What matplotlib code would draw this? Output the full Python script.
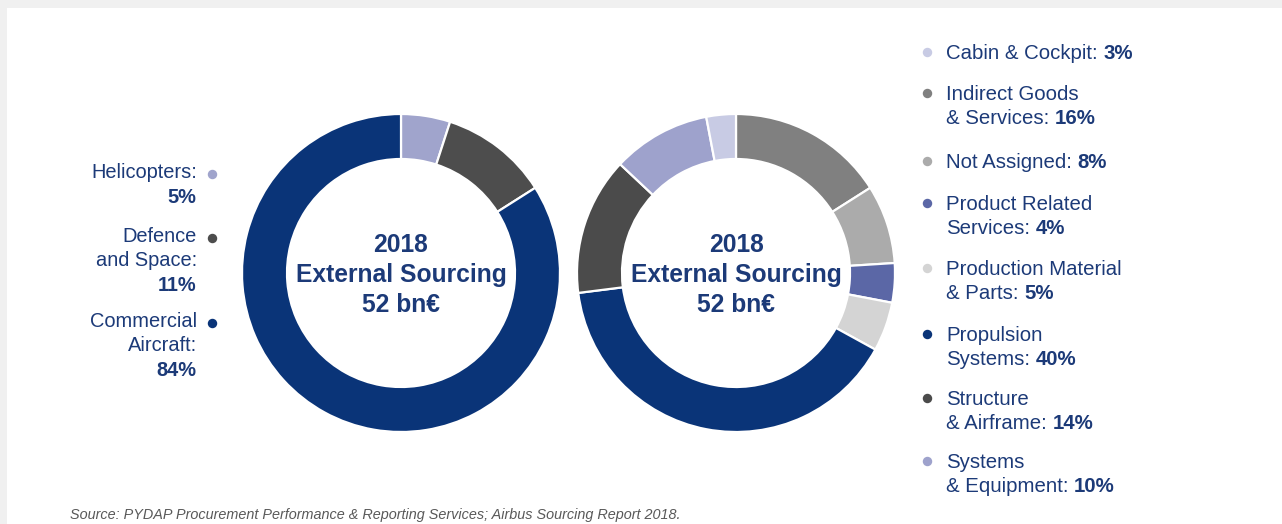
import matplotlib
matplotlib.use("Agg")
import matplotlib.pyplot as plt
from matplotlib.patches import Rectangle

W, H = 1282, 524
DPI = 100

# Airbus divisions (left ring)
division_lines = [["Helicopters:"], ["Defence", "and Space:"], ["Commercial", "Aircraft:"]]
division_shares = [5, 11, 84]
division_colors = ["#a0a4cc", "#4d4d4d", "#0a3478"]

# Sourcing categories (right ring), listed alphabetically
category_lines = [
    ["Cabin & Cockpit:"],
    ["Indirect Goods", "& Services:"],
    ["Not Assigned:"],
    ["Product Related", "Services:"],
    ["Production Material", "& Parts:"],
    ["Propulsion", "Systems:"],
    ["Structure", "& Airframe:"],
    ["Systems", "& Equipment:"],
]
category_shares = [3, 16, 8, 4, 5, 40, 14, 10]
category_colors = ["#c8cbe4", "#808080", "#ababab", "#5b67a6",
                   "#d4d4d4", "#0a3478", "#4b4b4b", "#9ea2cc"]

TEXT_NAVY = "#1c3a78"
FONT = "Liberation Sans"
FS_LEFT = 14.4
FS_RIGHT = 14.7

fig = plt.figure(figsize=(W / DPI, H / DPI), dpi=DPI)
fig.patch.set_facecolor("white")
ax = fig.add_axes([0, 0, 1, 1])

# thin grey frame along the top and left edges
fig.patches.append(Rectangle((0, 1 - 8 / H), 1, 8 / H, transform=fig.transFigure,
                             facecolor="#f0f0f0", edgecolor="none", zorder=0))
fig.patches.append(Rectangle((0, 0), 7 / W, 1, transform=fig.transFigure,
                             facecolor="#f0f0f0", edgecolor="none", zorder=0))


def py(y):
    """Convert a top-down pixel row to data y."""
    return H - y


R_OUT, RING = 159, 45
wedge_style = dict(width=RING, edgecolor="white", linewidth=1.6)

# left ring: divisions, clockwise from 12 o'clock
ax.pie(division_shares, colors=division_colors, startangle=90, counterclock=False,
       radius=R_OUT, center=(401, py(273)), wedgeprops=wedge_style)

# right ring starts with the second category and wraps round to the first
ring_order = list(range(1, len(category_shares))) + [0]
ax.pie([category_shares[i] for i in ring_order],
       colors=[category_colors[i] for i in ring_order],
       startangle=90, counterclock=False,
       radius=R_OUT, center=(736, py(273)), wedgeprops=wedge_style)

ax.set_xlim(0, W)
ax.set_ylim(0, H)
ax.set_aspect("auto")
ax.axis("off")

for cx in (401, 736):
    for base, line in zip((252, 282, 312), ("2018", "External Sourcing", "52 bn€")):
        ax.text(cx, py(base), line, ha="center", va="baseline", fontsize=17.7,
                fontweight="bold", family=FONT, color=TEXT_NAVY)


def label_with_value(x, y, text, value, fs):
    t = ax.text(x, y, text, ha="left", va="baseline", fontsize=fs,
                family=FONT, color=TEXT_NAVY)
    ax.annotate(f"{value}%", xy=(1, 0), xycoords=t, xytext=(5.7, 0),
                textcoords="offset pixels", ha="left", va="bottom", fontsize=fs,
                fontweight="bold", family=FONT, color=TEXT_NAVY)


STEP = 24

# right legend
item_baselines = [59, 100, 168, 210, 275, 341, 405, 468]
for lines, share, color, base in zip(category_lines, category_shares,
                                     category_colors, item_baselines):
    ax.plot(927, py(base - 7), "o", ms=6.8, color=color, mec="none")
    for k, line in enumerate(lines):
        y = py(base + k * STEP)
        if k == len(lines) - 1:
            label_with_value(946, y, line, share, FS_RIGHT)
        else:
            ax.text(946, y, line, ha="left", va="baseline", fontsize=FS_RIGHT,
                    family=FONT, color=TEXT_NAVY)

# left labels, right-aligned against their dots
div_baselines = [178, 242, 327]
for lines, share, color, base in zip(division_lines, division_shares,
                                     division_colors, div_baselines):
    ax.plot(212, py(base - 4), "o", ms=6.8, color=color, mec="none")
    for k, line in enumerate(lines):
        ax.text(197, py(base + k * STEP), line, ha="right", va="baseline",
                fontsize=FS_LEFT, family=FONT, color=TEXT_NAVY)
    ax.text(196, py(base + len(lines) * STEP + 1), f"{share}%", ha="right",
            va="baseline", fontsize=FS_LEFT, fontweight="bold", family=FONT,
            color=TEXT_NAVY)

ax.text(70, py(519), "Source: PYDAP Procurement Performance & Reporting Services; "
        "Airbus Sourcing Report 2018.", ha="left", va="baseline", fontsize=10.4,
        style="italic", family=FONT, color="#595959")

fig.savefig("out.png", dpi=DPI, facecolor="white")
